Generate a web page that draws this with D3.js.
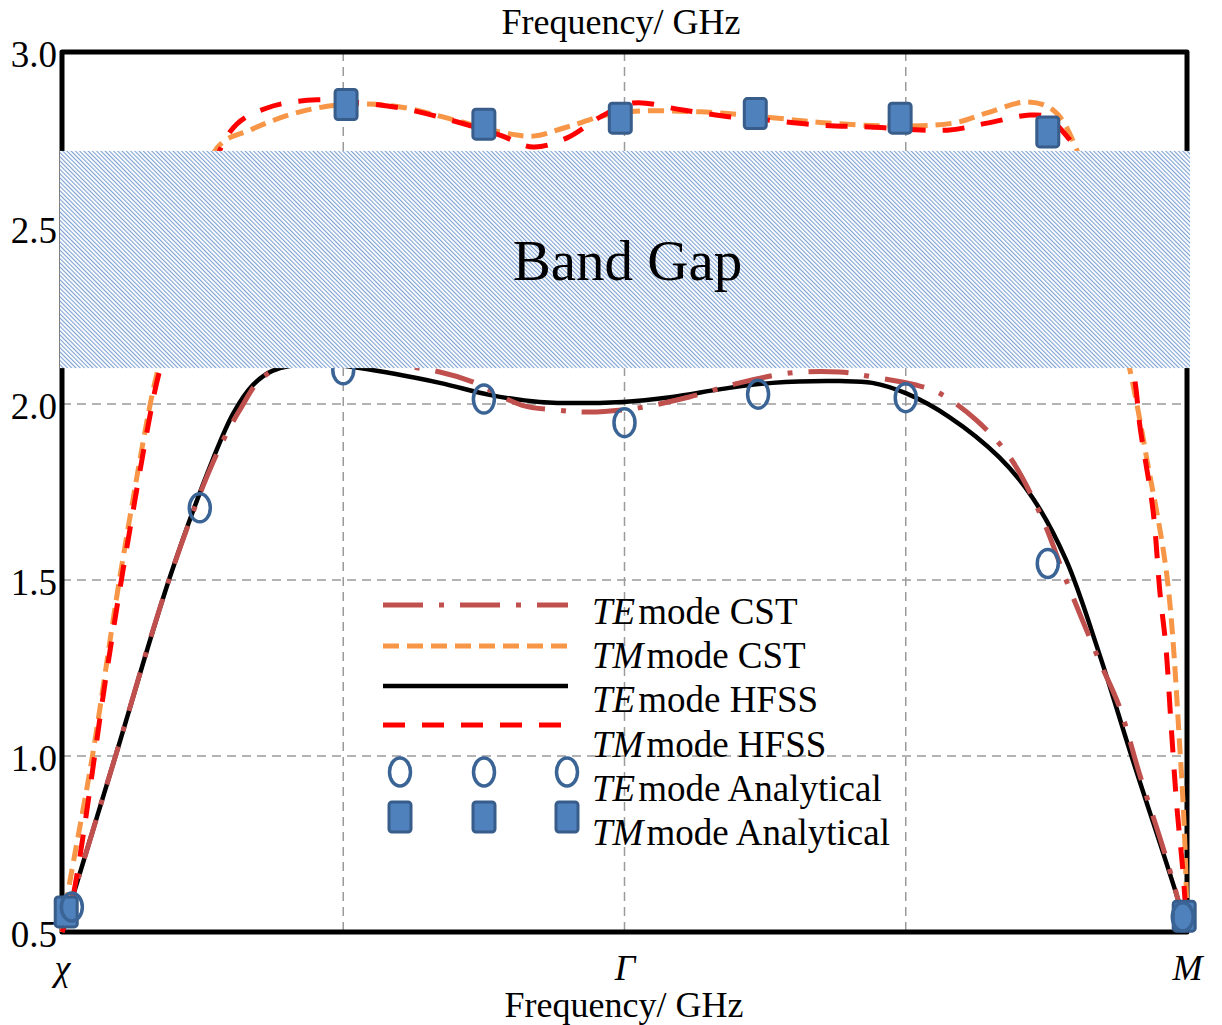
<!DOCTYPE html>
<html>
<head>
<meta charset="utf-8">
<script src="https://cdn.jsdelivr.net/npm/d3@7"></script>
<style>
  body { margin: 0; background: #fff; }
  svg { display: block; font-family: "Liberation Serif", "Times New Roman", serif; }
</style>
</head>
<body>
<div id="chart"></div>
<script>
// x runs 0..4 along the path chi -> Gamma -> M
const xTickPos = [0, 2, 4];
const xTickLabels = ["χ", "Γ", "M"];
const yTicks = [0.5, 1.0, 1.5, 2.0, 2.5, 3.0];
const gridX = [1, 2, 3];
const gridY = [1.0, 1.5, 2.0, 2.5];
const bandGap = [2.102, 2.719];

// TE mode HFSS (solid black)
const teHfssX = [0, 0.188, 0.384, 0.54, 0.61, 0.68, 0.75, 0.9, 1.059, 1.343, 1.52, 1.698, 1.993, 2.17, 2.348, 2.526, 2.764, 2.881, 3.002, 3.155, 3.332, 3.449, 3.57, 3.687, 3.805, 3.972, 4.0];
const teHfssY = [0.5, 0.994, 1.509, 1.85, 1.975, 2.055, 2.095, 2.115, 2.102, 2.06, 2.026, 2.006, 2.006, 2.02, 2.043, 2.06, 2.065, 2.06, 2.03, 1.963, 1.849, 1.736, 1.557, 1.293, 0.994, 0.582, 0.5];

// TE mode CST (dash-dot)
const teCstX = [0, 0.188, 0.384, 0.54, 0.63, 0.72, 0.9, 1.1, 1.343, 1.46, 1.634, 1.755, 1.872, 2.05, 2.23, 2.41, 2.586, 2.764, 2.881, 3.036, 3.119, 3.25, 3.37, 3.483, 3.57, 3.687, 3.76, 3.83, 3.925, 3.972, 3.99];
const teCstY = [0.5, 0.994, 1.509, 1.84, 1.98, 2.08, 2.13, 2.12, 2.091, 2.063, 1.997, 1.983, 1.977, 1.989, 2.02, 2.06, 2.088, 2.091, 2.077, 2.054, 2.031, 1.955, 1.849, 1.679, 1.5, 1.273, 1.139, 0.952, 0.713, 0.58, 0.52];

// TM mode CST (orange dashes)
const tmCstX = [0, 0.021, 0.107, 0.206, 0.313, 0.341, 0.551, 0.668, 0.846, 1.024, 1.202, 1.38, 1.557, 1.675, 1.796, 1.973, 2.268, 2.507, 2.695, 2.933, 3.168, 3.289, 3.431, 3.524, 3.609, 3.797, 3.858, 3.929, 3.975, 3.99, 4.0];
const tmCstY = [0.5, 0.611, 0.994, 1.509, 1.997, 2.097, 2.727, 2.778, 2.83, 2.852, 2.844, 2.81, 2.773, 2.761, 2.787, 2.827, 2.83, 2.815, 2.80, 2.79, 2.798, 2.827, 2.858, 2.835, 2.72, 2.097, 1.84, 1.509, 1.017, 0.80, 0.55];

// TM mode HFSS (red dashes)
const tmHfssX = [0, 0.028, 0.16, 0.213, 0.32, 0.348, 0.597, 0.729, 0.907, 1.024, 1.202, 1.38, 1.557, 1.675, 1.796, 1.913, 2.03, 2.208, 2.386, 2.507, 2.684, 2.873, 3.147, 3.289, 3.442, 3.502, 3.584, 3.609, 3.808, 3.833, 3.879, 3.904, 3.925, 3.943, 3.964, 3.986, 4.0];
const tmHfssY = [0.5, 0.56, 1.244, 1.509, 1.997, 2.097, 2.773, 2.841, 2.864, 2.858, 2.841, 2.807, 2.764, 2.73, 2.756, 2.815, 2.855, 2.835, 2.815, 2.807, 2.793, 2.787, 2.778, 2.798, 2.821, 2.815, 2.75, 2.72, 2.097, 1.935, 1.699, 1.463, 1.31, 1.094, 0.855, 0.668, 0.5];

// analytical points
const teAnX = [0.035, 0.49, 1.0, 1.5, 2.0, 2.475, 3.0, 3.505, 3.985];
const teAnY = [0.571, 1.705, 2.097, 2.014, 1.947, 2.028, 2.018, 1.547, 0.543];
const tmAnX = [0.015, 0.5, 1.01, 1.5, 1.985, 2.465, 2.98, 3.505, 3.99];
const tmAnY = [0.557, 2.62, 2.851, 2.795, 2.812, 2.825, 2.812, 2.773, 0.545];

const legendItems = [
  { mode: "TE", rest: "mode CST", kind: "teCst" },
  { mode: "TM", rest: "mode CST", kind: "tmCst" },
  { mode: "TE", rest: "mode HFSS", kind: "teHfss" },
  { mode: "TM", rest: "mode HFSS", kind: "tmHfss" },
  { mode: "TE", rest: "mode Analytical", kind: "teAn" },
  { mode: "TM", rest: "mode Analytical", kind: "tmAn" }
];

const styles = {
  teHfss: { stroke: "#000000", width: 4.5, dash: null },
  teCst:  { stroke: "#c0504d", width: 5, dash: "40,16,5,16" },
  tmCst:  { stroke: "#f79646", width: 5, dash: "16,8" },
  tmHfss: { stroke: "#ff0000", width: 5, dash: "22,17" }
};

const W = 1222, H = 1025;
const x = d3.scaleLinear().domain([0, 4]).range([62, 1187]);
const y = d3.scaleLinear().domain([0.5, 3]).range([932, 52]);

const svg = d3.select("#chart").append("svg")
  .attr("width", W).attr("height", H);

const defs = svg.append("defs");
const pat = defs.append("pattern")
  .attr("id", "hatch")
  .attr("patternUnits", "userSpaceOnUse")
  .attr("width", 3).attr("height", 10)
  .attr("patternTransform", "rotate(-45)");
pat.append("rect").attr("width", 3).attr("height", 10).attr("fill", "#fff");
pat.append("line")
  .attr("x1", 0.6).attr("y1", 0).attr("x2", 0.6).attr("y2", 10)
  .attr("stroke", "#5f8bc8").attr("stroke-width", 0.9);

// grid
svg.append("g").selectAll("line.gx")
  .data(gridX).enter().append("line")
  .attr("x1", d => x(d)).attr("x2", d => x(d))
  .attr("y1", y(3)).attr("y2", y(0.5))
  .attr("stroke", "#9a9a9a").attr("stroke-width", 1.5)
  .attr("stroke-dasharray", "9,6");
svg.append("g").selectAll("line.gy")
  .data(gridY).enter().append("line")
  .attr("x1", x(0)).attr("x2", x(4))
  .attr("y1", d => y(d)).attr("y2", d => y(d))
  .attr("stroke", "#9a9a9a").attr("stroke-width", 1.5)
  .attr("stroke-dasharray", "9,6");

// frame
svg.append("rect")
  .attr("x", x(0)).attr("y", y(3))
  .attr("width", x(4) - x(0)).attr("height", y(0.5) - y(3))
  .attr("fill", "none").attr("stroke", "#000")
  .attr("stroke-width", 5).attr("stroke-linejoin", "round");

// curves
const line = d3.line()
  .x(d => x(d[0])).y(d => y(d[1]))
  .curve(d3.curveCatmullRom.alpha(0.5));

function drawCurve(xs, ys, st) {
  svg.append("path")
    .datum(d3.zip(xs, ys))
    .attr("d", line)
    .attr("fill", "none")
    .attr("stroke", st.stroke)
    .attr("stroke-width", st.width)
    .attr("stroke-dasharray", st.dash);
}
drawCurve(teHfssX, teHfssY, styles.teHfss);
drawCurve(teCstX, teCstY, styles.teCst);
drawCurve(tmCstX, tmCstY, styles.tmCst);
drawCurve(tmHfssX, tmHfssY, styles.tmHfss);

// markers
function square(sel) {
  sel.append("rect")
    .attr("x", -11).attr("y", -15).attr("width", 22).attr("height", 30)
    .attr("rx", 3)
    .attr("fill", "#4f81bd").attr("stroke", "#385d8a").attr("stroke-width", 3);
}
function ring(sel) {
  sel.append("ellipse")
    .attr("rx", 10.5).attr("ry", 14)
    .attr("fill", "none").attr("stroke", "#3b6496").attr("stroke-width", 3.5);
}

svg.append("g").selectAll("g")
  .data(d3.zip(tmAnX, tmAnY)).enter().append("g")
  .attr("transform", d => `translate(${x(d[0])},${y(d[1])})`)
  .call(square);
svg.append("g").selectAll("g")
  .data(d3.zip(teAnX, teAnY)).enter().append("g")
  .attr("transform", d => `translate(${x(d[0])},${y(d[1])})`)
  .call(ring);

// band gap
svg.append("rect")
  .attr("x", x(0) - 2).attr("y", y(bandGap[1]))
  .attr("width", x(4) - x(0) + 5).attr("height", y(bandGap[0]) - y(bandGap[1]))
  .attr("fill", "url(#hatch)");
svg.append("text")
  .attr("x", x(2) + 3).attr("y", (y(bandGap[0]) + y(bandGap[1])) / 2 + 20)
  .attr("text-anchor", "middle")
  .attr("font-size", 57)
  .text("Band Gap");

// axes (labels only)
const yAxis = d3.axisLeft(y).tickValues(yTicks).tickFormat(d3.format(".1f")).tickSize(0).tickPadding(5);
const gy = svg.append("g").attr("transform", `translate(${x(0)},0)`).call(yAxis);
gy.select(".domain").remove();
gy.selectAll("text")
  .attr("font-family", "Liberation Serif, serif")
  .attr("font-size", 37).attr("fill", "#000")
  .attr("dy", "0.4em");

const xAxis = d3.axisBottom(x).tickValues(xTickPos)
  .tickFormat((d, i) => xTickLabels[i]).tickSize(0).tickPadding(22);
const gx = svg.append("g").attr("transform", `translate(0,${y(0.5)})`).call(xAxis);
gx.select(".domain").remove();
gx.selectAll("text")
  .attr("font-family", "Liberation Serif, serif")
  .attr("font-size", 36).attr("fill", "#000")
  .attr("font-style", "italic");

svg.append("text")
  .attr("x", 621).attr("y", 34)
  .attr("text-anchor", "middle").attr("font-size", 36)
  .text("Frequency/ GHz");
svg.append("text")
  .attr("x", 624).attr("y", 1017)
  .attr("text-anchor", "middle").attr("font-size", 36)
  .text("Frequency/ GHz");

// legend
const legendRowY = [605, 646, 686, 725, 772, 817];
const legendTextY = [624, 668, 712, 757, 801, 845];
const leg = svg.append("g");
legendItems.forEach((it, i) => {
  const ly = legendRowY[i];
  if (styles[it.kind]) {
    const st = styles[it.kind];
    leg.append("line")
      .attr("x1", 383).attr("x2", 568).attr("y1", ly).attr("y2", ly)
      .attr("stroke", st.stroke).attr("stroke-width", st.width)
      .attr("stroke-dasharray", st.dash);
  } else {
    [400, 484, 567].forEach(mx => {
      leg.append("g").attr("transform", `translate(${mx},${ly})`)
        .call(it.kind === "teAn" ? ring : square);
    });
  }
  const t = leg.append("text")
    .attr("x", 592).attr("y", legendTextY[i])
    .attr("font-size", 37);
  t.append("tspan").attr("font-style", "italic").text(it.mode);
  t.append("tspan").attr("dx", 3).text(it.rest);
});
</script>
</body>
</html>
